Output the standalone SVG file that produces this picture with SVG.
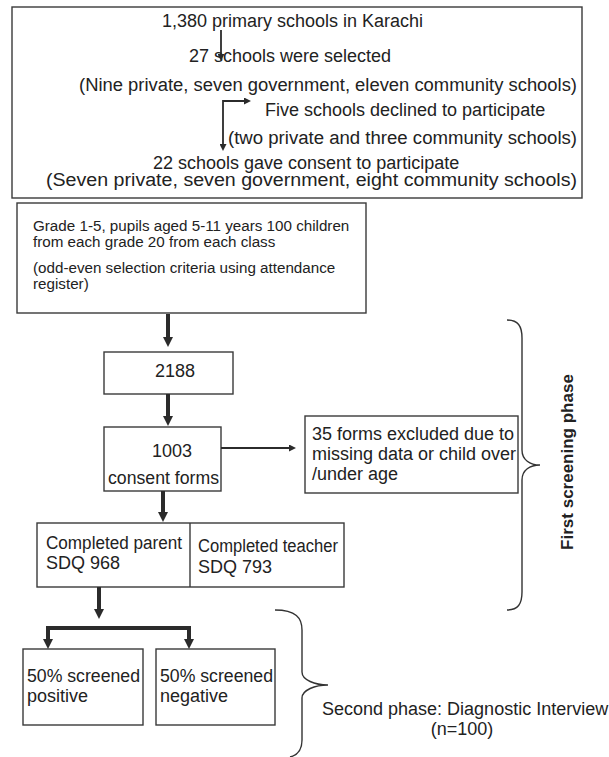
<svg xmlns="http://www.w3.org/2000/svg" width="609" height="757" viewBox="0 0 609 757">
<defs>
<style>
.box{fill:#fff;stroke:#3a3a3a;stroke-width:1.4}
.t{font-family:"Liberation Sans",Arial,sans-serif;font-size:18px;fill:#222}
.s{font-family:"Liberation Sans",Arial,sans-serif;font-size:15.2px;fill:#222}
.b{font-family:"Liberation Sans",Arial,sans-serif;font-size:17px;font-weight:bold;fill:#222}
.thin{fill:none;stroke:#2b2b2b;stroke-width:1.8}
.thick{fill:none;stroke:#2b2b2b;stroke-width:4}
.brace{fill:none;stroke:#333;stroke-width:1.4}
</style>
<marker id="ah" viewBox="0 0 10 10" refX="0" refY="5" markerUnits="userSpaceOnUse" markerWidth="8" markerHeight="7" orient="auto-start-reverse">
<path d="M0,0 L10,5 L0,10 z" fill="#2b2b2b"/>
</marker>
<marker id="ahb" viewBox="0 0 10 10" refX="0" refY="5" markerUnits="userSpaceOnUse" markerWidth="10" markerHeight="11" orient="auto">
<path d="M0,0 L10,5 L0,10 z" fill="#2b2b2b"/>
</marker>
</defs>
<rect width="609" height="757" fill="#fff"/>

<g id="top-box">
<rect class="box" x="12" y="7" width="570" height="191"/>
<text class="t" x="162" y="27">1,380 primary schools in Karachi</text>
<text class="t" x="189" y="62">27 schools were selected</text>
<text class="t" x="79" y="91" textLength="498" lengthAdjust="spacingAndGlyphs">(Nine private, seven government, eleven community schools)</text>
<text class="t" x="265" y="116">Five schools declined to participate</text>
<text class="t" x="228" y="144" textLength="349" lengthAdjust="spacingAndGlyphs">(two private and three community schools)</text>
<text class="t" x="153" y="169">22 schools gave consent to participate</text>
<text class="t" x="46" y="186" textLength="531" lengthAdjust="spacingAndGlyphs">(Seven private, seven government, eight community schools)</text>
</g>

<g id="grade-box">
<rect class="box" x="17" y="203" width="349" height="110"/>
<text class="s" x="33" y="231">Grade 1-5, pupils aged 5-11 years 100 children</text>
<text class="s" x="33" y="247">from each grade 20 from each class</text>
<text class="s" x="33" y="273">(odd-even selection criteria using attendance</text>
<text class="s" x="33" y="289">register)</text>
</g>

<g id="n2188">
<rect class="box" x="104" y="352" width="129" height="42"/>
<text class="t" x="175" y="377" text-anchor="middle">2188</text>
</g>

<g id="n1003">
<rect class="box" x="104" y="427" width="117" height="64"/>
<text class="t" x="172" y="457" text-anchor="middle">1003</text>
<text class="t" x="108" y="484" textLength="111" lengthAdjust="spacingAndGlyphs">consent forms</text>
</g>

<g id="excluded">
<rect class="box" x="305" y="416" width="213" height="77"/>
<text class="t" x="312" y="440">35 forms excluded due to</text>
<text class="t" x="312" y="460">missing data or child over</text>
<text class="t" x="312" y="480">/under age</text>
</g>

<g id="sdq">
<rect class="box" x="37" y="523" width="307" height="64"/>
<line class="box" x1="190" y1="523" x2="190" y2="587"/>
<text class="t" x="46" y="549" textLength="136" lengthAdjust="spacingAndGlyphs">Completed parent</text>
<text class="t" x="46" y="569">SDQ 968</text>
<text class="t" x="198" y="552" textLength="140" lengthAdjust="spacingAndGlyphs">Completed teacher</text>
<text class="t" x="198" y="573">SDQ 793</text>
</g>

<g id="positive">
<rect class="box" x="23" y="649" width="120" height="76"/>
<text class="t" x="27" y="682" textLength="113" lengthAdjust="spacingAndGlyphs">50% screened</text>
<text class="t" x="27" y="702">positive</text>
</g>

<g id="negative">
<rect class="box" x="156" y="649" width="119" height="76"/>
<text class="t" x="160" y="682" textLength="113" lengthAdjust="spacingAndGlyphs">50% screened</text>
<text class="t" x="160" y="702">negative</text>
</g>

<g id="first-phase">
<path class="brace" d="M507,320 C518,320 522,326 522,338 L522,450 C522,460 530,465 540,465 C530,465 522,470 522,480 L522,592 C522,604 518,610 507,610"/>
<text class="b" x="573" y="462" text-anchor="middle" transform="rotate(-90 573 462)">First screening phase</text>
</g>

<g id="second-phase">
<path class="brace" d="M275,610 C296,610 302,618 302,630 L302,672 C302,680 315,685 328,685 C315,685 302,690 302,698 L302,740 C302,750 298,755 290,757"/>
<text class="t" x="322" y="715">Second phase: Diagnostic Interview</text>
<text class="t" x="462" y="735" text-anchor="middle">(n=100)</text>
</g>

<g id="connectors">
<line class="thin" x1="221" y1="30" x2="221" y2="54" marker-end="url(#ah)"/>
<path class="thin" d="M244,101 L223,101 L223,144" marker-start="url(#ah)" marker-end="url(#ah)"/>
<line class="thick" x1="168" y1="314" x2="168" y2="337" marker-end="url(#ahb)"/>
<line class="thick" x1="168" y1="394" x2="168" y2="416" marker-end="url(#ahb)"/>
<line class="thin" x1="221" y1="448" x2="289" y2="448" marker-end="url(#ah)"/>
<line class="thick" x1="163" y1="491" x2="163" y2="512" marker-end="url(#ahb)"/>
<line class="thick" x1="99" y1="587" x2="99" y2="609" marker-end="url(#ahb)"/>
<path class="thick" d="M118,628 L48,628 L48,639" marker-end="url(#ahb)"/>
<path class="thick" d="M100,628 L189,628 L189,639" marker-end="url(#ahb)"/>
</g>
</svg>
